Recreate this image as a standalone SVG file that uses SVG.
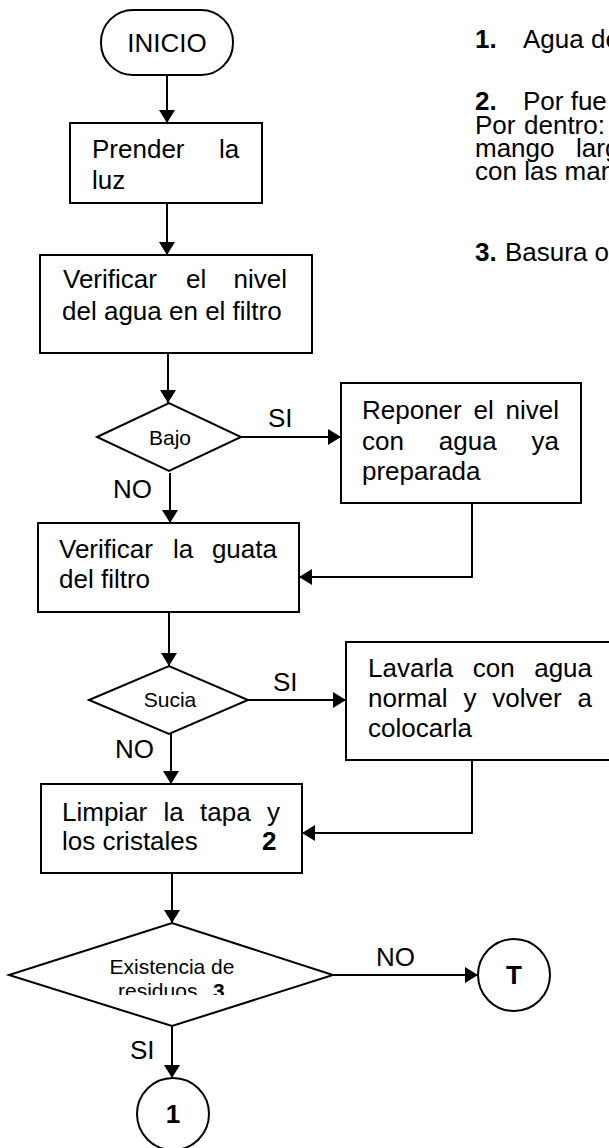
<svg xmlns="http://www.w3.org/2000/svg" width="609" height="1148" viewBox="0 0 609 1148">
<style>
  .shape { fill: #fff; stroke: #000; stroke-width: 2; }
  .t { font-family: "Liberation Sans", Arial, sans-serif; font-size: 26px; fill: #000; }
  .s { font-family: "Liberation Sans", Arial, sans-serif; font-size: 21px; fill: #000; }
  .b { font-weight: bold; }
  .mid { text-anchor: middle; }
  .conn { fill: none; stroke: #000; stroke-width: 2; }
  .arr { marker-end: url(#ah); }
</style>
<defs>
  <marker id="ah" markerUnits="userSpaceOnUse" markerWidth="14" markerHeight="16" refX="13" refY="8" orient="auto">
    <path d="M0,0 L13,8 L0,16 Z" fill="#000"/>
  </marker>
  <clipPath id="clipRes"><rect x="0" y="900" width="609" height="95"/></clipPath>
</defs>
<rect x="0" y="0" width="609" height="1148" fill="#fff"/>

<g id="notes">
  <text class="t" y="48"><tspan class="b" x="475">1.</tspan><tspan x="523">Agua de</tspan></text>
  <text class="t" y="110"><tspan class="b" x="475">2.</tspan><tspan x="523">Por fue</tspan></text>
  <text class="t" y="134"><tspan x="475">Por</tspan><tspan x="524">dentro:</tspan></text>
  <text class="t" y="157"><tspan x="475">mango</tspan><tspan x="576">larg</tspan></text>
  <text class="t" y="180"><tspan x="475">con las man</tspan></text>
  <text class="t" y="261"><tspan class="b" x="475">3.</tspan><tspan x="505">Basura o</tspan></text>
</g>

<g id="connectors">
  <line class="conn arr" x1="167" y1="75" x2="167" y2="123"/>
  <line class="conn arr" x1="167" y1="203" x2="167" y2="255"/>
  <line class="conn arr" x1="168" y1="353" x2="168" y2="403"/>
  <line class="conn arr" x1="241" y1="437" x2="341" y2="437"/>
  <line class="conn arr" x1="170" y1="473" x2="170" y2="523"/>
  <polyline class="conn arr" points="472,503 472,577 299,577"/>
  <line class="conn arr" x1="169" y1="612" x2="169" y2="666"/>
  <line class="conn arr" x1="248" y1="700" x2="346" y2="700"/>
  <line class="conn arr" x1="171" y1="734" x2="171" y2="784"/>
  <polyline class="conn arr" points="472,760 472,833 302,833"/>
  <line class="conn arr" x1="172" y1="873" x2="172" y2="923"/>
  <line class="conn arr" x1="333" y1="975" x2="478" y2="975"/>
  <line class="conn arr" x1="172" y1="1026" x2="172" y2="1078"/>
  <text class="t" x="268" y="427">SI</text>
  <text class="t" x="113" y="498">NO</text>
  <text class="t" x="273" y="691">SI</text>
  <text class="t" x="115" y="758">NO</text>
  <text class="t" x="376" y="966">NO</text>
  <text class="t" x="130" y="1059">SI</text>
</g>

<g id="inicio">
  <rect class="shape" x="101" y="10" width="132" height="65" rx="32" ry="32"/>
  <text class="t mid" x="167" y="52">INICIO</text>
</g>

<g id="prender">
  <rect class="shape" x="70" y="123" width="192" height="80"/>
  <text class="t" y="158"><tspan x="92">Prender</tspan><tspan x="219">la</tspan></text>
  <text class="t" x="92" y="189">luz</text>
</g>

<g id="verificar-nivel">
  <rect class="shape" x="40" y="255" width="272" height="98"/>
  <text class="t" y="288"><tspan x="63">Verificar</tspan><tspan x="186">el</tspan><tspan x="233.5">nivel</tspan></text>
  <text class="t" x="62" y="320">del agua en el filtro</text>
</g>

<g id="bajo">
  <polygon class="shape" points="97,437 169,403 241,437 169,471"/>
  <text class="s mid" x="170" y="445">Bajo</text>
</g>

<g id="reponer">
  <rect class="shape" x="341" y="383" width="240" height="120"/>
  <text class="t" y="419"><tspan x="362">Reponer</tspan><tspan x="473.5">el</tspan><tspan x="505.5">nivel</tspan></text>
  <text class="t" y="450"><tspan x="362">con</tspan><tspan x="438.8">agua</tspan><tspan x="531.5">ya</tspan></text>
  <text class="t" x="362" y="480">preparada</text>
</g>

<g id="verificar-guata">
  <rect class="shape" x="38" y="523" width="261" height="89"/>
  <text class="t" y="558"><tspan x="59">Verificar</tspan><tspan x="173">la</tspan><tspan x="211.9">guata</tspan></text>
  <text class="t" x="59" y="588">del filtro</text>
</g>

<g id="sucia">
  <polygon class="shape" points="89,700 169,666 248,700 169,734"/>
  <text class="s mid" x="170" y="707">Sucia</text>
</g>

<g id="lavarla">
  <rect class="shape" x="346" y="642" width="280" height="118"/>
  <text class="t" y="677"><tspan x="368">Lavarla</tspan><tspan x="472.8">con</tspan><tspan x="534.2">agua</tspan></text>
  <text class="t" y="707"><tspan x="368">normal</tspan><tspan x="463.4">y</tspan><tspan x="492.3">volver</tspan><tspan x="577.5">a</tspan></text>
  <text class="t" x="368" y="737">colocarla</text>
</g>

<g id="limpiar">
  <rect class="shape" x="41" y="784" width="261" height="89"/>
  <text class="t" y="821"><tspan x="62">Limpiar</tspan><tspan x="163.5">la</tspan><tspan x="200">tapa</tspan><tspan x="267">y</tspan></text>
  <text class="t" y="850"><tspan x="62">los cristales</tspan><tspan class="b" x="262">2</tspan></text>
</g>

<g id="residuos">
  <polygon class="shape" points="9,975 172,923 333,975 172,1026"/>
  <text class="s mid" x="172" y="974">Existencia de</text>
  <text class="s" y="998" clip-path="url(#clipRes)"><tspan x="118">residuos</tspan><tspan class="b" x="213">3</tspan></text>
</g>

<g id="fin-t">
  <circle class="shape" cx="514" cy="975" r="36"/>
  <text class="t b mid" x="514" y="984">T</text>
</g>

<g id="conector-1">
  <circle class="shape" cx="173" cy="1114" r="36"/>
  <text class="t b mid" x="173" y="1123">1</text>
</g>
</svg>
